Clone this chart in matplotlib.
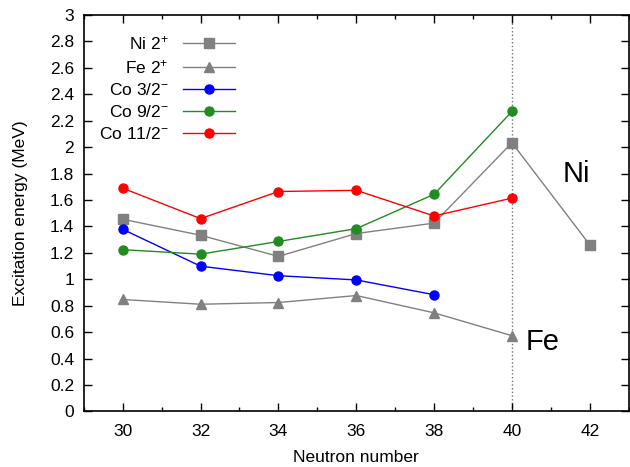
import numpy as np
import matplotlib
matplotlib.use("Agg")
import matplotlib.pyplot as plt
from matplotlib.ticker import MultipleLocator, FuncFormatter

plt.rcParams.update({
    "font.family": ["Liberation Sans", "DejaVu Sans"],
    "mathtext.default": "regular",
    "font.size": 12.5,
})

# excitation energies (MeV) vs neutron number
n_ni = [30, 32, 34, 36, 38, 40, 42]
e_ni = [1.454, 1.333, 1.173, 1.346, 1.425, 2.033, 1.260]
n_fe = [30, 32, 34, 36, 38, 40]
e_fe = [0.847, 0.811, 0.824, 0.877, 0.746, 0.573]
n_co32 = [30, 32, 34, 36, 38]
e_co32 = [1.378, 1.099, 1.027, 0.995, 0.883]
n_co92 = [30, 32, 34, 36, 38, 40]
e_co92 = [1.224, 1.190, 1.286, 1.383, 1.643, 2.270]
n_co112 = [30, 32, 34, 36, 38, 40]
e_co112 = [1.689, 1.459, 1.664, 1.673, 1.479, 1.614]

fig = plt.figure(figsize=(6.3, 4.67), dpi=100)
ax = fig.add_axes([0.133, 0.119, 0.865, 0.849])

ax.axvline(40, color="0.45", ls=":", lw=1.0, zorder=1)

ax.plot(n_ni, e_ni, "-s", color="0.5", lw=1.0, ms=6.5, label=r"Ni 2$^{+}$")
ax.plot(n_fe, e_fe, "-^", color="0.5", lw=1.0, ms=7.5, label=r"Fe 2$^{+}$")
ax.plot(n_co32, e_co32, "-o", color="blue", lw=1.0, ms=6.5,
        label=r"Co 3/2$^{-}$")
ax.plot(n_co92, e_co92, "-o", color="#228b22", lw=1.0, ms=6.5,
        label=r"Co 9/2$^{-}$")
ax.plot(n_co112, e_co112, "-o", color="red", lw=1.0, ms=6.5,
        label=r"Co 11/2$^{-}$")

ax.text(41.3, 1.80, "Ni", fontsize=21, va="center", ha="left")
ax.text(40.36, 0.525, "Fe", fontsize=21, va="center", ha="left")

ax.set_xlim(29, 43)
ax.set_ylim(0, 3)
ax.xaxis.set_major_locator(MultipleLocator(2))
ax.xaxis.set_minor_locator(MultipleLocator(1))
ax.yaxis.set_major_locator(MultipleLocator(0.2))
ax.yaxis.set_major_formatter(
    FuncFormatter(lambda v, _: f"{v:.1f}".rstrip("0").rstrip(".")))
ax.tick_params(which="both", direction="in", top=True, right=True, width=1.0)
ax.tick_params(which="major", length=6)
ax.tick_params(which="minor", length=3)
ax.tick_params(axis="x", pad=9)
ax.tick_params(axis="y", pad=7)
for s in ax.spines.values():
    s.set_linewidth(1.2)

ax.set_xlabel("Neutron number", labelpad=8)
ax.set_ylabel("Excitation energy (MeV)", labelpad=16)

ax.legend(loc="upper left", bbox_to_anchor=(0.0, 0.99), frameon=False,
          markerfirst=False, handlelength=3.0, labelspacing=0.34,
          handletextpad=0.8, fontsize=12.5)

fig.savefig("out.png")
